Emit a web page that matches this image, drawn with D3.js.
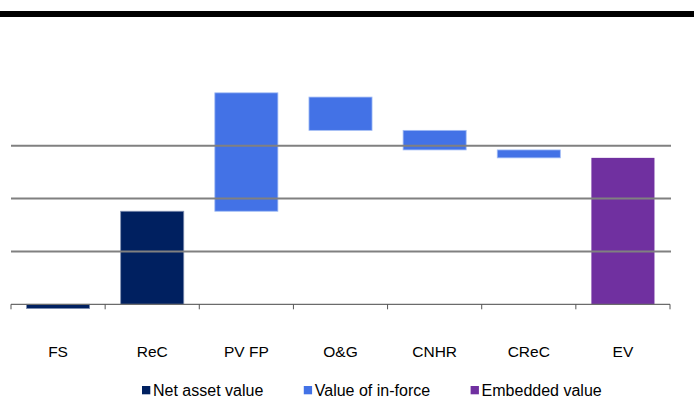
<!DOCTYPE html>
<html>
<head>
<meta charset="utf-8">
<script src="https://cdn.jsdelivr.net/npm/d3@7"></script>
<style>
  html, body { margin: 0; padding: 0; background: #fff; }
  svg { display: block; font-family: "Liberation Sans", Arial, sans-serif; }
</style>
</head>
<body>
<svg id="chart" width="694" height="398"></svg>
<script>
// Embedded value build-up (waterfall): each bar spans from its start to its end level
const categories = ["FS", "ReC", "PV FP", "O&G", "CNHR", "CReC", "EV"];
const barSeries  = ["nav", "nav", "vif", "vif", "vif", "vif", "ev"];
const barStart   = [0, 0, 1.76, 3.29, 2.92, 2.77, 0];
const barEnd     = [-0.08, 1.76, 4.00, 3.92, 3.29, 2.92, 2.77];
const gridValues = [1, 2, 3];

const seriesKeys   = ["nav", "vif", "ev"];
const seriesNames  = ["Net asset value", "Value of in-force", "Embedded value"];
const seriesColors = ["#002060", "#4372e6", "#7030a0"];
const seriesStroke = ["#7f8fb0", "#a3bdf5", "none"];

const svg = d3.select("#chart");
const W = 694;

// heavy rule across the top
svg.append("rect").attr("x", 0).attr("y", 11).attr("width", W).attr("height", 6).attr("fill", "#000");

const plotLeft = 11, plotRight = 670;
const x = d3.scaleBand().domain(categories).range([plotLeft, plotRight])
  .paddingInner(0.33).paddingOuter(0.165);
const y = d3.scaleLinear().domain([0, 3]).range([304.3, 145.7]);

const color = d3.scaleOrdinal().domain(seriesKeys).range(seriesColors);
const stroke = d3.scaleOrdinal().domain(seriesKeys).range(seriesStroke);

const bars = categories.map((c, i) => ({ c, s: barSeries[i], a: barStart[i], b: barEnd[i] }));

svg.append("g").selectAll("rect").data(bars).join("rect")
  .attr("x", d => x(d.c))
  .attr("width", x.bandwidth())
  .attr("y", d => y(Math.max(d.a, d.b)))
  .attr("height", d => Math.abs(y(d.a) - y(d.b)))
  .attr("fill", d => color(d.s))
  .attr("stroke", d => stroke(d.s))
  .attr("stroke-width", 0.8);

// horizontal gridlines, drawn over the bars
svg.append("g").selectAll("line").data(gridValues).join("line")
  .attr("x1", plotLeft).attr("x2", plotRight + 1)
  .attr("y1", d => y(d)).attr("y2", d => y(d))
  .attr("stroke", "#808080").attr("stroke-width", 2);

// category axis: baseline and tick marks between categories
const step = x.step();
const tickXs = d3.range(categories.length + 1).map(k => plotLeft + k * step);
svg.append("line")
  .attr("x1", plotLeft).attr("x2", plotRight)
  .attr("y1", y(0)).attr("y2", y(0))
  .attr("stroke", "#6b6b6b").attr("stroke-width", 1.2);
svg.append("g").selectAll("line").data(tickXs).join("line")
  .attr("x1", d => d).attr("x2", d => d)
  .attr("y1", y(0)).attr("y2", y(0) + 5)
  .attr("stroke", "#555").attr("stroke-width", 1);

svg.append("g").selectAll("text").data(categories).join("text")
  .attr("x", d => x(d) + x.bandwidth() / 2)
  .attr("y", 356.5)
  .attr("text-anchor", "middle")
  .attr("font-size", 15.5)
  .attr("fill", "#000")
  .text(d => d);

// legend
const legend = svg.append("g");
let lx = 142;
seriesKeys.forEach((k, i) => {
  legend.append("rect").attr("x", lx).attr("y", 386).attr("width", 8.3).attr("height", 8.3)
    .attr("fill", color(k));
  const t = legend.append("text").attr("x", lx + 11).attr("y", 396)
    .attr("font-size", 16).attr("fill", "#000").text(seriesNames[i]);
  lx += 11 + t.node().getComputedTextLength() + 40.5;
});
</script>
</body>
</html>
